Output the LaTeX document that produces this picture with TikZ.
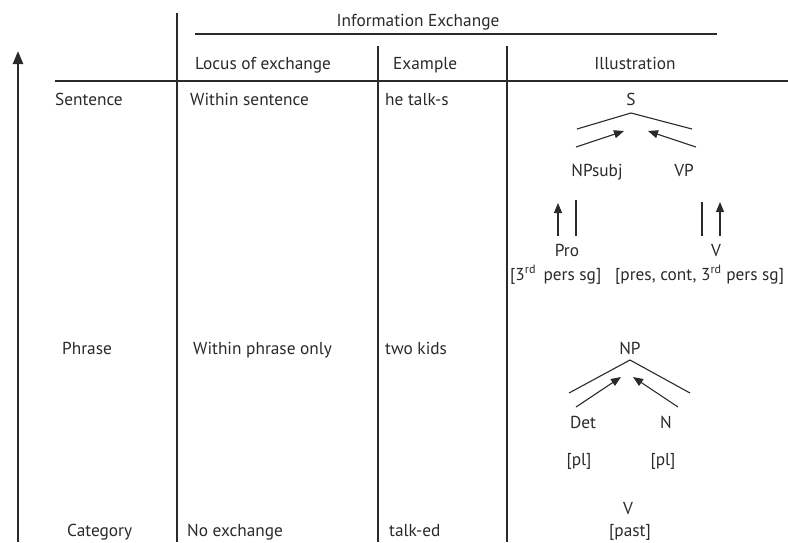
\documentclass[tikz,border=0pt]{standalone}
\usepackage{fontspec}
\setmainfont{PT Sans}
\usetikzlibrary{arrows.meta}
\definecolor{ink}{HTML}{2A2A2A}
\begin{document}
\begin{tikzpicture}[x=1pt,y=-1pt,
  txt/.style={font=\fontsize{17.3}{19}\selectfont, text=ink, inner sep=0pt, anchor=base},
  rule/.style={draw=ink, line width=1.1pt},
  tarr/.style={draw=ink, line width=1.1pt, -{Triangle[width=8pt,length=10pt]}}]
\useasboundingbox (0,0) rectangle (788,542);
% rules
\coordinate (arB) at (18,542); \coordinate (arT) at (18,51);
\draw[draw=ink, line width=2.4pt, -{Triangle[width=10pt,length=13pt]}] (arB) -- (arT);
\coordinate (v1t) at (177,13); \coordinate (v1b) at (177,542);
\coordinate (v2t) at (378,46); \coordinate (v2b) at (378,542);
\coordinate (v3t) at (507,46); \coordinate (v3b) at (507,542);
\coordinate (ieL) at (195,34); \coordinate (ieR) at (717,34);
\coordinate (hL) at (55,81); \coordinate (hR) at (788,81);
\draw[rule] (v1t) -- (v1b);
\draw[rule] (v2t) -- (v2b);
\draw[rule] (v3t) -- (v3b);
\draw[rule] (ieL) -- (ieR);
\draw[rule] (hL) -- (hR);
% headers
\node[txt] (ie) at (418,26) {Information Exchange};
\node[txt, anchor=base west] (locus) at (195,69) {Locus of exchange};
\node[txt, anchor=base west] (exam) at (393,69) {Example};
\node[txt] (illu) at (635,69) {Illustration};
% rows
\node[txt, anchor=base west] (sent) at (55,105) {Sentence};
\node[txt, anchor=base west] (wsent) at (190,105) {Within sentence};
\node[txt, anchor=base west] (talks) at (385,105) {he talk-s};
\node[txt, anchor=base west] (phr) at (62,354) {Phrase};
\node[txt, anchor=base west] (wphr) at (193,354) {Within phrase only};
\node[txt, anchor=base west] (kids) at (385,354) {two kids};
\node[txt, anchor=base west] (cat) at (67,536) {Category};
\node[txt, anchor=base west] (noex) at (187,536) {No exchange};
\node[txt, anchor=base west] (talked) at (389,536) {talk-ed};
% sentence tree
\node[txt] (S) at (631,105) {S};
\coordinate (sA) at (631,113); \coordinate (sL) at (577,129); \coordinate (sR) at (692,129);
\draw[rule] (sL) -- (sA) -- (sR);
\coordinate (a1s) at (576,147); \coordinate (a1e) at (624,131);
\coordinate (a2s) at (696,147); \coordinate (a2e) at (648,131);
\draw[tarr] (a1s) -- (a1e);
\draw[tarr] (a2s) -- (a2e);
\node[txt] (NPs) at (597,176) {NPsubj};
\node[txt] (VP) at (684,176) {VP};
\coordinate (p1s) at (558,236); \coordinate (p1e) at (558,203);
\coordinate (p2s) at (576,200); \coordinate (p2e) at (576,236);
\coordinate (q1s) at (702,202); \coordinate (q1e) at (702,236);
\coordinate (q2s) at (720,236); \coordinate (q2e) at (720,202);
\draw[tarr] (p1s) -- (p1e);
\draw[rule] (p2s) -- (p2e);
\draw[rule] (q1s) -- (q1e);
\draw[tarr] (q2s) -- (q2e);
\node[txt] (Pro) at (567,256) {Pro};
\node[txt] (V1) at (716,256) {V};
\node[txt, anchor=base west] (f1) at (510,280) {[3\textsuperscript{rd}\, pers sg]};
\node[txt, anchor=base west] (f2) at (615,280) {[pres, cont, 3\textsuperscript{rd} pers sg]};
% phrase tree
\node[txt] (NP) at (630,354) {NP};
\coordinate (nA) at (630,360); \coordinate (nL) at (569,393); \coordinate (nR) at (690,393);
\draw[rule] (nL) -- (nA) -- (nR);
\coordinate (b1s) at (576,407); \coordinate (b1e) at (621,377);
\coordinate (b2s) at (678,407); \coordinate (b2e) at (633,377);
\draw[tarr] (b1s) -- (b1e);
\draw[tarr] (b2s) -- (b2e);
\node[txt] (Det) at (583,428) {Det};
\node[txt] (N) at (666,428) {N};
\node[txt] (pl1) at (579,465) {[pl]};
\node[txt] (pl2) at (663,465) {[pl]};
% category
\node[txt] (V2) at (628,514) {V};
\node[txt] (past) at (630,536) {[past]};
\end{tikzpicture}
\end{document}
